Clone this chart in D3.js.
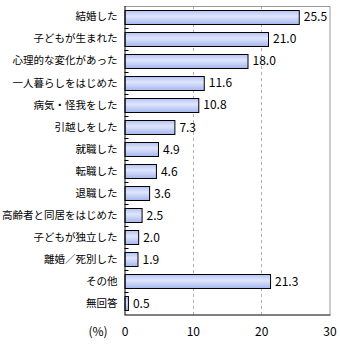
<!DOCTYPE html>
<html><head><meta charset="utf-8">
<script src="https://cdn.jsdelivr.net/npm/d3@7"></script>
<style>
html,body{margin:0;padding:0;background:#fff;}
text{font-family:"Noto Sans CJK JP","Noto Sans",sans-serif;font-size:12px;fill:#000;}
</style></head>
<body>
<svg id="c" width="340" height="345"></svg>
<script>
const categories = ["結婚した","子どもが生まれた","心理的な変化があった","一人暮らしをはじめた","病気・怪我をした","引越しをした","就職した","転職した","退職した","高齢者と同居をはじめた","子どもが独立した","離婚／死別した","その他","無回答"];
const values = [25.5,21.0,18.0,11.6,10.8,7.3,4.9,4.6,3.6,2.5,2.0,1.9,21.3,0.5];
const tickValues = [0,10,20,30];
const unitLabel = "(%)";

const svg = d3.select("#c");
const L = 124.5, R = 329.5, T = 6, B = 314.5;
const x = d3.scaleLinear().domain([0,30]).range([L,R]);
const y = d3.scaleBand().domain(categories).range([T,B]).paddingInner(0.36).paddingOuter(0.18);

const defs = svg.append("defs");
const g = defs.append("linearGradient").attr("id","bg").attr("x1",0).attr("y1",0).attr("x2",0).attr("y2",1);
g.append("stop").attr("offset","0%").attr("stop-color","#b4c2f2");
g.append("stop").attr("offset","40%").attr("stop-color","#dfe6fc");
g.append("stop").attr("offset","100%").attr("stop-color","#a6b6ee");

// grid lines
svg.append("g").selectAll("line").data([10,20]).join("line")
  .attr("x1",d=>Math.round(x(d))+0.5).attr("x2",d=>Math.round(x(d))+0.5)
  .attr("y1",T).attr("y2",B)
  .attr("stroke","#b0b0b0").attr("stroke-dasharray","3,3");

// top/right border
svg.append("path").attr("d",`M${L},${T+0.5}H${R+0.5}V${B}`).attr("fill","none").attr("stroke","#999");

// bars
svg.append("g").selectAll("rect").data(values).join("rect")
  .attr("x",L+0.5)
  .attr("y",(d,i)=>Math.round(y(categories[i]))+0.5)
  .attr("width",d=>x(d)-L)
  .attr("height",Math.round(y.bandwidth()))
  .attr("fill","url(#bg)").attr("stroke","#000");

// value labels
svg.append("g").selectAll("text").data(values).join("text")
  .attr("x",d=>x(d)+5)
  .attr("y",(d,i)=>y(categories[i])+y.bandwidth()/2)
  .attr("dy","0.36em")
  .text(d=>d.toFixed(1));

// left axis with category labels
const yAxis = d3.axisLeft(y).tickSize(0).tickPadding(7);
const ya = svg.append("g").attr("transform",`translate(${L},0)`).call(yAxis);
ya.select(".domain").remove();
ya.selectAll("text").style("font-size","10.5px").attr("fill","#000");
// inner ticks at band boundaries
svg.append("g").selectAll("line").data(d3.range(1,categories.length)).join("line")
  .attr("x1",L).attr("x2",L+4)
  .attr("y1",i=>Math.round(T+y.step()*i)+0.5).attr("y2",i=>Math.round(T+y.step()*i)+0.5)
  .attr("stroke","#000");
svg.append("line").attr("x1",L+0.5).attr("x2",L+0.5).attr("y1",T).attr("y2",B+0.5).attr("stroke","#000");
svg.append("line").attr("x1",L).attr("x2",R+1).attr("y1",B+0.5).attr("y2",B+0.5).attr("stroke","#000");

// bottom axis
const xAxis = d3.axisBottom(x).tickValues(tickValues).tickSize(0).tickPadding(13).tickFormat(d3.format("d"));
const xa = svg.append("g").attr("transform",`translate(0,${B})`).call(xAxis);
xa.select(".domain").remove();
xa.selectAll("text").style("font-size","12px").attr("fill","#000");

svg.append("text").attr("x",98).attr("y",B+13).attr("dy","0.71em").attr("text-anchor","middle").text(unitLabel);
</script>
</body></html>
